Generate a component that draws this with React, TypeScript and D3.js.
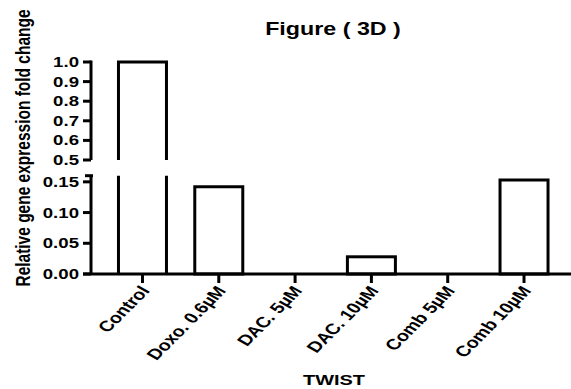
import React from "react";
import * as d3 from "d3";

const categories = ["Control", "Doxo. 0.6µM", "DAC. 5µM", "DAC. 10µM", "Comb 5µM", "Comb 10µM"];
const values = [1.0, 0.142, 0, 0.028, 0, 0.153];
const lowerTicks = [0, 0.05, 0.1, 0.15];
const upperTicks = [0.5, 0.6, 0.7, 0.8, 0.9, 1.0];

const width = 571;
const height = 389;
const sx = 1.33; // source picture is stretched horizontally
const font = "'Liberation Sans', Arial, sans-serif";

const App = () => {
  const axisX = 91;
  const x = d3.scaleBand<string>().domain(categories).range([axisX, 575.5]).paddingInner(0.371).paddingOuter(0.36);
  const yLow = d3.scaleLinear().domain([0, 0.16]).range([274, 175.7]);
  const yUp = d3.scaleLinear().domain([0.5, 1.0]).range([160, 62]);
  const lowMax = 0.16;
  const sw = 3;

  return (
    <svg width={width} height={height} style={{position: "absolute", left: 0, top: 0, background: "#fff"}}
         fontFamily={font} fontWeight="bold">
      {/* title */}
      <text transform={`translate(333,35) scale(${sx},1)`} textAnchor="middle" fontSize={17.5}>Figure ( 3D )</text>

      {/* y label */}
      <text transform={`translate(30,148) scale(${sx},1) rotate(-90)`} textAnchor="middle" fontSize={15.5}>
        Relative gene expression fold change
      </text>

      {/* bars */}
      {values.map((v, i) => {
        const x0 = x(categories[i])!;
        const x1 = x0 + x.bandwidth();
        if (v > lowMax) {
          const top = yUp(v);
          return (
            <g key={i} fill="none" stroke="#000" strokeWidth={sw}>
              <path d={`M${x0},${yUp(0.5)}V${top}H${x1}V${yUp(0.5)}`}/>
              <path d={`M${x0},${yLow(lowMax)}V${yLow(0)}M${x1},${yLow(lowMax)}V${yLow(0)}`}/>
            </g>
          );
        }
        if (v <= 0) return null;
        return <rect key={i} x={x0} y={yLow(v)} width={x1 - x0} height={yLow(0) - yLow(v)}
                     fill="#fff" stroke="#000" strokeWidth={sw}/>;
      })}

      {/* y axis, two segments */}
      <g stroke="#000" strokeWidth={sw} fill="none">
        <line x1={axisX} x2={axisX} y1={yUp(1.0) - 1.5} y2={yUp(0.5)}/>
        {upperTicks.map(t => <line key={t} x1={axisX - 8} x2={axisX} y1={yUp(t)} y2={yUp(t)}/>)}
        <line x1={axisX} x2={axisX} y1={yLow(lowMax)} y2={yLow(0)}/>
        <line x1={axisX - 6} x2={axisX + 2} y1={yLow(lowMax)} y2={yLow(lowMax)}/>
        {lowerTicks.map(t => <line key={t} x1={axisX - 8} x2={axisX} y1={yLow(t)} y2={yLow(t)}/>)}
        {/* x axis */}
        <line x1={axisX - 8} x2={width} y1={yLow(0)} y2={yLow(0)}/>
        {categories.map(c => {
          const cx = x(c)! + x.bandwidth() / 2;
          return <line key={c} x1={cx} x2={cx} y1={yLow(0)} y2={yLow(0) + 9}/>;
        })}
      </g>

      {upperTicks.map(t => (
        <text key={t} transform={`translate(${axisX - 12},${yUp(t) + 5}) scale(${sx},1)`} textAnchor="end" fontSize={14}>
          {d3.format(".1f")(t)}
        </text>
      ))}
      {lowerTicks.map(t => (
        <text key={t} transform={`translate(${axisX - 12},${yLow(t) + 5}) scale(${sx},1)`} textAnchor="end" fontSize={14}>
          {d3.format(".2f")(t)}
        </text>
      ))}

      {categories.map(c => {
        const cx = x(c)! + x.bandwidth() / 2;
        return (
          <text key={c} transform={`translate(${cx + 8},${yLow(0) + 17}) scale(${sx},1) rotate(-53)`}
                textAnchor="end" fontSize={15}>{c}</text>
        );
      })}

      <text transform={`translate(334,385) scale(${sx},1)`} textAnchor="middle" fontSize={15}>TWIST</text>
    </svg>
  );
};

export default App;
